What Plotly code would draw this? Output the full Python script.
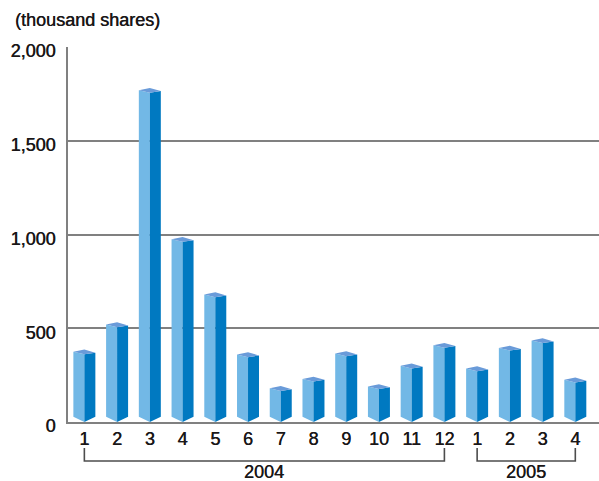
import plotly.graph_objects as go

# ---- data ----
months = ["1", "2", "3", "4", "5", "6", "7", "8", "9", "10", "11", "12", "1", "2", "3", "4"]
volumes = [375, 520, 1770, 975, 680, 360, 180, 230, 365, 190, 300, 410, 285, 395, 435, 225]
years = ["2004", "2005"]
year_first_idx = [0, 12]
year_last_idx = [11, 15]
y_ticks = [0, 500, 1000, 1500, 2000]
y_tick_text = ["0", "500", "1,000", "1,500", "2,000"]
y_title = "(thousand shares)"

# ---- style ----
LIGHT = "#72B8E6"
DARK = "#0079C1"
TOP = "#6A9BD9"
FONT = "Liberation Sans, Arial, sans-serif"
TXT = "#1A1718"
GRID = "#808080"
FS = 18
SHADOW = "0.35px 0 0 #1A1718"

hw = 0.336          # half bar width (category units)
d_back = 12         # top diamond geometry in value units
d_front = 14
d_right = 5
base_side = 28

lx, ly, rx, ry, tx, ty = [], [], [], [], [], []
for i, v in enumerate(volumes):
    c = i
    lx += [c - hw, c - hw, c, c, c - hw, None]
    ly += [base_side, v, v - d_front, 0, base_side, None]
    rx += [c, c, c + hw, c + hw, c, None]
    ry += [0, v - d_front, v - d_right, base_side, 0, None]
    tx += [c - hw, c, c + hw, c, c - hw, None]
    ty += [v, v + d_back, v - d_right, v - d_front, v, None]

fig = go.Figure()
for xs, ys, col in [(lx, ly, LIGHT), (rx, ry, DARK), (tx, ty, TOP)]:
    fig.add_trace(go.Scatter(x=xs, y=ys, mode="lines", fill="toself",
                             fillcolor=col, line=dict(width=0, color=col),
                             hoverinfo="skip", showlegend=False))

W, H = 599, 481
ml, mr, mt, mb = 68, 0, 47, 59
plot_w = W - ml - mr
plot_h = H - mt - mb
step = 32.73
tf = dict(size=FS, color=TXT, shadow=SHADOW)
fig.update_layout(
    width=W, height=H,
    margin=dict(l=ml, r=mr, t=mt, b=mb),
    paper_bgcolor="white", plot_bgcolor="white",
    font=dict(family=FONT, color=TXT, size=FS),
    showlegend=False,
)
fig.update_xaxes(
    range=[-0.5, -0.5 + plot_w / step],
    tickmode="array", tickvals=list(range(len(months))), ticktext=months,
    showgrid=False, zeroline=False, showline=True, linecolor=GRID, linewidth=1.6,
    ticks="", tickfont=tf, ticklabelstandoff=0,
)
fig.update_yaxes(
    range=[0, 2000], tickmode="array", tickvals=y_ticks, ticktext=y_tick_text,
    showgrid=True, gridcolor=GRID, gridwidth=1.6, zeroline=False,
    showline=True, linecolor=GRID, linewidth=1.6,
    ticks="", tickfont=tf, ticklabelstandoff=7,
    ticklabelshift=4,
)

# y title
fig.add_annotation(text=y_title, xref="paper", yref="paper",
                   x=(13 - ml) / plot_w, y=(H - mb - 20) / plot_h,
                   xanchor="left", yanchor="middle", showarrow=False,
                   font=tf)

# year brackets
y_top = -(448 - (H - mb)) / plot_h
y_bot = -(461 - (H - mb)) / plot_h
for name, a, b in zip(years, year_first_idx, year_last_idx):
    fig.add_shape(type="path",
                  path=f"M {a} {y_top} L {a} {y_bot} L {b} {y_bot} L {b} {y_top}",
                  xref="x", yref="paper", line=dict(color="#4D4D4D", width=1.6))
    fig.add_annotation(text=name, x=(a + b) / 2, xref="x", yref="paper",
                       y=-(472 - (H - mb)) / plot_h, yanchor="middle",
                       showarrow=False, font=tf)

fig.write_html("out.html")
